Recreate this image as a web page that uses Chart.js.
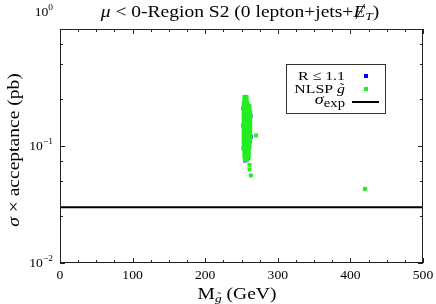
<!DOCTYPE html>
<html>
<head>
<meta charset="utf-8">
<script src="https://cdn.jsdelivr.net/npm/chart.js@4.4.0/dist/chart.umd.min.js"></script>
<style>
  body { margin: 0; background: #fff; }
  canvas { display: block; }
</style>
</head>
<body>
<canvas id="chart" width="436" height="304"></canvas>
<script>
// Axis ticks
const xTicks = [0, 100, 200, 300, 400, 500];
const xMinorTicks = [25, 50, 75, 125, 150, 175, 225, 250, 275, 325, 350, 375, 425, 450, 475];
const yTicks = [0.01, 0.1, 1];
const yTickExps = ['\u22122', '\u22121', '0'];
const yMinorTicks = [0.025, 0.05, 0.075, 0.25, 0.5, 0.75];

// Expected cross section limit
const sigmaExp = 0.03;

// NLSP gluino points
const nlspRowSigma = [0.263, 0.248, 0.234, 0.221, 0.208, 0.196, 0.185, 0.174, 0.164, 0.155, 0.146,
                      0.138, 0.130, 0.122, 0.115, 0.109, 0.103, 0.097, 0.091, 0.086, 0.081, 0.076];
const nlspRowMass = [
    [254, 257], [254, 257], [253, 256, 258], [253, 256, 259, 261], [253, 256, 259, 261],
    [253, 256, 259, 262], [253, 256, 259, 262], [253, 256, 259, 262], [253, 256, 259, 262],
    [253, 256, 259, 262], [253, 256, 259, 262], [253, 256, 259, 262], [253, 256, 259, 262],
    [253, 256, 259, 262], [253, 256, 259, 262], [253, 256, 259, 262], [253, 256, 259, 261],
    [253, 256, 259, 261], [254, 257, 260], [254, 257, 260], [254, 257, 260], [255, 258]
];
const nlspExtraMass = [261, 261, 263, 270, 420];
const nlspExtraSigma = [0.069, 0.063, 0.056, 0.123, 0.043];

// R <= 1.1 points (mostly hidden under the green ones)
const rMass = [252.5, 252.5, 253, 263, 262.5, 255, 259, 255];
const rSigma = [0.21, 0.15, 0.095, 0.12, 0.18, 0.262, 0.079, 0.075];

const serif = '"Liberation Serif", "DejaVu Serif", serif';
const stretch = 1.22; // the original serif face is wider than Liberation Serif

function buildNlsp() {
    const pts = [];
    nlspRowSigma.forEach((s, i) => {
        nlspRowMass[i].forEach(m => pts.push({ x: m, y: s }));
    });
    nlspExtraMass.forEach((m, i) => pts.push({ x: m, y: nlspExtraSigma[i] }));
    return pts;
}

function drawRich(ctx, parts, x, y, align, sx) {
    // parts: [text, font, dy]
    sx = sx || 1;
    ctx.textAlign = 'left';
    let w = 0;
    parts.forEach(p => { ctx.font = p[1]; w += ctx.measureText(p[0]).width * sx; });
    let cx = align === 'right' ? x - w : (align === 'center' ? x - w / 2 : x);
    const pos = [];
    parts.forEach(p => {
        ctx.font = p[1];
        const pw = ctx.measureText(p[0]).width * sx;
        ctx.save();
        ctx.translate(cx, y + (p[2] || 0));
        ctx.scale(sx, 1);
        ctx.fillText(p[0], 0, 0);
        ctx.restore();
        pos.push([cx, pw]);
        cx += pw;
    });
    return pos;
}

const framePlugin = {
    id: 'frame',
    afterDraw(chart) {
        const ctx = chart.ctx;
        const a = chart.chartArea;
        const xs = chart.scales.x;
        const ys = chart.scales.y;
        ctx.save();
        ctx.fillStyle = '#000';
        ctx.strokeStyle = '#222';
        ctx.lineWidth = 1;
        ctx.textBaseline = 'alphabetic';

        // frame
        ctx.strokeRect(a.left + 0.5, a.top + 0.5, a.right - a.left - 1, a.bottom - a.top - 1);

        // inward ticks
        ctx.beginPath();
        const tickX = (v, len) => {
            const px = Math.round(xs.getPixelForValue(v)) + 0.5;
            ctx.moveTo(px, a.bottom); ctx.lineTo(px, a.bottom - len);
            ctx.moveTo(px, a.top); ctx.lineTo(px, a.top + len);
        };
        const tickY = (v, len) => {
            const py = Math.round(ys.getPixelForValue(v)) + 0.5;
            ctx.moveTo(a.left, py); ctx.lineTo(a.left + len, py);
            ctx.moveTo(a.right, py); ctx.lineTo(a.right - len, py);
        };
        xTicks.forEach(v => tickX(v, 5));
        xMinorTicks.forEach(v => tickX(v, 3));
        yTicks.forEach(v => tickY(v, 5));
        yMinorTicks.forEach(v => tickY(v, 3));
        ctx.stroke();

        // x tick labels
        xTicks.forEach(v => {
            drawRich(ctx, [[String(v), '13px ' + serif, 0]], xs.getPixelForValue(v), a.bottom + 16, 'center', 1.05);
        });

        // y tick labels 10^n (the top one sits above the frame, as in the original)
        yTicks.forEach((v, i) => {
            let py = ys.getPixelForValue(v) + 4;
            if (v === 1) py = 16;
            drawRich(ctx, [['10', '13px ' + serif, 0], [yTickExps[i], '9px ' + serif, -6]],
                     a.left - 7, py, 'right', 1.05);
        });

        // title
        const tFont = '16px ' + serif;
        const tItal = 'italic 16px ' + serif;
        const tp = drawRich(ctx, [
            ['\u03bc', tItal, 0], [' < 0-Region S2 (0 lepton+jets+', tFont, 0],
            ['E', tItal, 0], ['T', 'italic 11px ' + serif, 3], [')', tFont, 0]
        ], 240, 17, 'center', stretch);
        // slash through E
        const e = tp[2];
        ctx.beginPath();
        ctx.moveTo(e[0] + e[1] * 0.2, 19);
        ctx.lineTo(e[0] + e[1] * 0.95, 4);
        ctx.lineWidth = 0.9;
        ctx.strokeStyle = '#000';
        ctx.stroke();

        // x axis title
        const xp = drawRich(ctx, [
            ['M', '16px ' + serif, 0], ['g', 'italic 11px ' + serif, 3], [' (GeV)', '16px ' + serif, 0]
        ], 237, 299, 'center', stretch);
        ctx.font = '11px ' + serif;
        ctx.textAlign = 'center';
        ctx.fillText('\u02dc', xp[1][0] + xp[1][1] / 2 + 1, 300);

        // y axis title
        ctx.save();
        ctx.translate(19, 150);
        ctx.rotate(-Math.PI / 2);
        drawRich(ctx, [
            ['\u03c3', 'italic 16px ' + serif, 0], [' \u00d7 acceptance (pb)', '16px ' + serif, 0]
        ], 0, 0, 'center', stretch);
        ctx.restore();

        // legend
        ctx.lineWidth = 1;
        ctx.strokeStyle = '#333';
        ctx.strokeRect(286.5, 64.5, 99, 49);
        const lf = '13px ' + serif;
        drawRich(ctx, [['R \u2264 1.1', lf, 0]], 345, 80, 'right', stretch);
        const np = drawRich(ctx, [['NLSP ', lf, 0], ['g', 'italic 13px ' + serif, 0]], 345, 93, 'right', stretch);
        ctx.font = lf;
        ctx.textAlign = 'center';
        ctx.fillText('\u02dc', np[1][0] + np[1][1] / 2 + 1, 92);
        drawRich(ctx, [['\u03c3', 'italic 15px ' + serif, 0], ['exp', '12px ' + serif, 3]], 345, 104, 'right', stretch);
        ctx.fillStyle = '#0000ff';
        ctx.fillRect(364, 74, 4, 4);
        ctx.fillStyle = '#22ee22';
        ctx.fillRect(364, 87, 4, 4);
        ctx.beginPath();
        ctx.moveTo(352, 102);
        ctx.lineTo(379, 102);
        ctx.lineWidth = 2;
        ctx.strokeStyle = '#000';
        ctx.stroke();

        ctx.restore();
    }
};

new Chart(document.getElementById('chart'), {
    type: 'scatter',
    data: {
        datasets: [
            {
                label: 'NLSP gluino',
                data: buildNlsp(),
                pointStyle: 'rect',
                pointRadius: 2.8,
                backgroundColor: '#22ee22',
                borderWidth: 0
            },
            {
                label: 'R <= 1.1',
                data: rMass.map((m, i) => ({ x: m, y: rSigma[i] })),
                pointStyle: 'rect',
                pointRadius: 2.8,
                backgroundColor: '#3344ff',
                borderWidth: 0
            },
            {
                type: 'line',
                label: 'sigma exp',
                data: [{ x: 0, y: sigmaExp }, { x: 500, y: sigmaExp }],
                borderColor: '#000',
                borderWidth: 2,
                pointRadius: 0
            }
        ]
    },
    options: {
        responsive: false,
        animation: false,
        events: [],
        layout: { padding: { left: 60, top: 29, right: 13, bottom: 41 } },
        plugins: { legend: { display: false }, tooltip: { enabled: false } },
        scales: {
            x: { type: 'linear', min: 0, max: 500, display: false },
            y: { type: 'logarithmic', min: 0.01, max: 1, display: false }
        }
    },
    plugins: [framePlugin]
});
</script>
</body>
</html>
